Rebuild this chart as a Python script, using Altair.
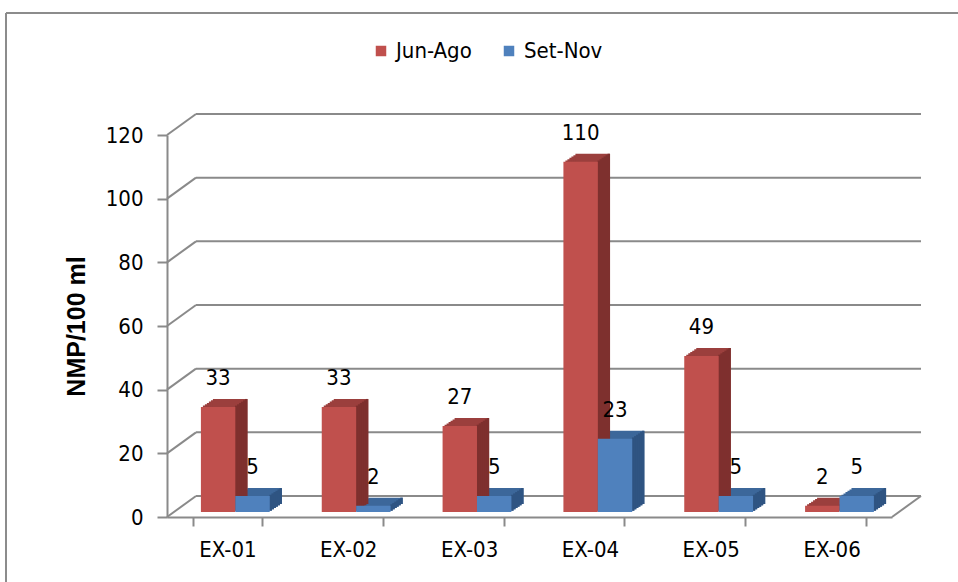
import altair as alt
import pandas as pd

categories = ["EX-01", "EX-02", "EX-03", "EX-04", "EX-05", "EX-06"]
series_names = ["Jun-Ago", "Set-Nov"]
jun_ago = [33, 33, 27, 110, 49, 2]
set_nov = [5, 2, 5, 23, 5, 5]
y_ticks = [0, 20, 40, 60, 80, 100, 120]

df_a = pd.DataFrame({"cat": categories, "series": "Jun-Ago", "v": jun_ago})
df_b = pd.DataFrame({"cat": categories, "series": "Set-Nov", "v": set_nov})
grid_df = pd.DataFrame({"v": y_ticks})

FONT = "DejaVu Sans Condensed, DejaVu Sans, sans-serif"
FS = 22
GRAY = "#8A8A8A"
W, H = 725, 382
DX, DY = 29, -21  # depth offset of back wall
BW = 34.4         # bar width
OFF_A, OFF_B = -9.3, 25.1   # bar centre offsets from band centre
SX, SY = 12, -8   # side/top face depth of bars
NSTEP = 6
BASE = -5         # bars sit slightly above the floor front edge

yscale = alt.Scale(domain=[0, 120])
xscale = alt.Scale(domain=categories, paddingInner=0.43, paddingOuter=0.215)

x_enc = alt.X("cat:N", sort=categories, scale=xscale,
              axis=alt.Axis(title=None, labelAngle=0, tickBand="extent",
                            domainColor=GRAY, domainWidth=2, tickColor=GRAY,
                            tickWidth=2, tickSize=9, labelFontSize=FS,
                            labelFont=FONT, labelColor="#000000",
                            labelPadding=13))
y_axis = alt.Axis(values=y_ticks, grid=False, title="NMP/100 ml",
                  titleFont="Liberation Sans", titleFontSize=25,
                  titleFontWeight="bold", titleColor="#000000",
                  titleAngle=270, titleX=-91, titleY=191,
                  titleAlign="center", titleBaseline="middle",
                  domainColor=GRAY, domainWidth=2, tickColor=GRAY,
                  tickWidth=2, tickSize=10, labelFontSize=FS,
                  labelFont=FONT, labelColor="#000000",
                  labelPadding=14)
y_enc = alt.Y("v:Q", scale=yscale, axis=y_axis)

color_enc = alt.Color("series:N", sort=series_names,
                      scale=alt.Scale(domain=series_names, range=["#C0504D", "#4F81BD"]),
                      legend=alt.Legend(title=None, orient="none", legendX=203, legendY=-95,
                                        direction="horizontal", symbolType="square",
                                        symbolSize=110, symbolStrokeWidth=0,
                                        labelFont=FONT, labelFontSize=FS,
                                        labelColor="#000000", columnPadding=26,
                                        labelOffset=4))

# back wall gridlines
back_lines = alt.Chart(grid_df).mark_rule(color=GRAY, strokeWidth=2, yOffset=DY).encode(
    y=y_enc, x=alt.value(DX), x2=alt.value(W + DX))
connectors = alt.Chart(grid_df).mark_rule(color=GRAY, strokeWidth=2, y2Offset=DY).encode(
    y=y_enc, y2=alt.Y2("v:Q"), x=alt.value(0), x2=alt.value(DX))
floor_edge = alt.Chart(pd.DataFrame({"v": [0]})).mark_rule(
    color=GRAY, strokeWidth=2, y2Offset=DY).encode(
    y=y_enc, y2=alt.Y2("v:Q"), x=alt.value(W), x2=alt.value(W + DX))

# outer frame
frame_top = alt.Chart(pd.DataFrame({"v": [0]})).mark_rule(color="#8C8C8C", strokeWidth=2).encode(
    x=alt.value(-161), x2=alt.value(958 - 167), y=alt.value(-122))
frame_left = alt.Chart(pd.DataFrame({"v": [0]})).mark_rule(color="#8C8C8C", strokeWidth=2).encode(
    x=alt.value(-161), y=alt.value(-122), y2=alt.value(582 - 135))

sx, sy = SX / NSTEP, SY / NSTEP


def top_layers(d, off, col):
    out = []
    for k in range(1, NSTEP + 1):
        out.append(alt.Chart(d).mark_bar(width=BW, xOffset=off + k * sx,
                                         yOffset=BASE + k * sy, y2Offset=BASE + k * sy,
                                         color=col).encode(x=x_enc, y=y_enc, y2=alt.datum(0)))
    return out


def side_layers(d, off, col):
    out = []
    for k in range(1, NSTEP + 1):
        out.append(alt.Chart(d).mark_bar(width=sx + 0.5,
                                         xOffset=off + BW / 2 + (k - 0.5) * sx,
                                         yOffset=BASE + k * sy, y2Offset=BASE + k * sy,
                                         color=col).encode(x=x_enc, y=y_enc, y2=alt.datum(0)))
    return out


def front_layer(d, off):
    return alt.Chart(d).mark_bar(width=BW, xOffset=off, yOffset=BASE,
                                 y2Offset=BASE).encode(
        x=x_enc, y=y_enc, y2=alt.datum(0), color=color_enc)


def text_layer(d, off):
    return alt.Chart(d).mark_text(dx=off, dy=-22, baseline="bottom", font=FONT,
                                  fontSize=FS, color="#000000").encode(
        x=x_enc, y=y_enc, text="v:Q")


layers = [frame_top, frame_left, back_lines, connectors, floor_edge]
layers += top_layers(df_a, OFF_A, "#9B3F3D") + top_layers(df_b, OFF_B, "#3C679A")
layers += side_layers(df_a, OFF_A, "#7E302E") + side_layers(df_b, OFF_B, "#2F5482")
layers += [front_layer(df_a, OFF_A), front_layer(df_b, OFF_B)]
layers += [text_layer(df_a, OFF_A), text_layer(df_b, OFF_B)]

chart = alt.layer(*layers).properties(
    width=W, height=H,
    autosize=alt.AutoSizeParams(type="none"),
    padding={"left": 167, "top": 135, "right": 66, "bottom": 65},
    background="white",
).configure_view(strokeWidth=0)

chart.save("out.html", embed_options={"renderer": "svg", "actions": False})
